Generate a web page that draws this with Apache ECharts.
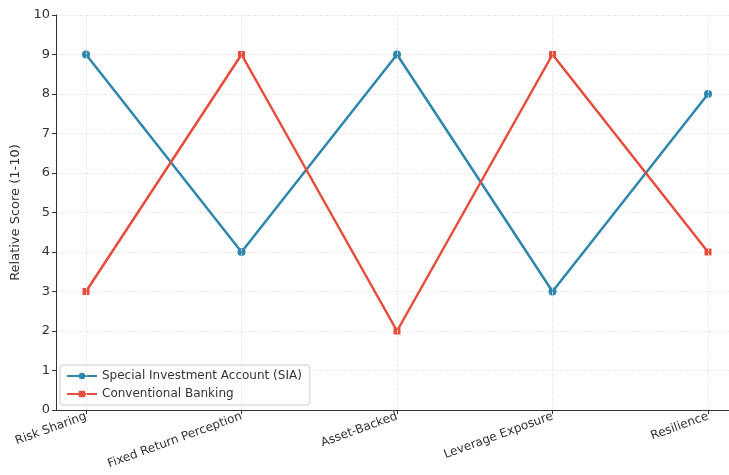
<!DOCTYPE html>
<html><head><meta charset="utf-8">
<script src="https://cdn.jsdelivr.net/npm/echarts@6/dist/echarts.min.js"></script>
<style>html,body{margin:0;padding:0;background:#fff}#c{width:729px;height:475px}</style>
</head><body><div id="c"></div>
<script>
const categories = ['Risk Sharing','Fixed Return Perception','Asset-Backed','Leverage Exposure','Resilience'];
const siaValues = [9,4,9,3,8];
const convValues = [3,9,2,9,4];
const yTicks = [0,1,2,3,4,5,6,7,8,9,10];
const seriesNames = ['Special Investment Account (SIA)','Conventional Banking'];

const chart = echarts.init(document.getElementById('c'), null, {renderer:'canvas'});
const idx = categories.map((_, i) => i);
const font = 'DejaVu Sans';
chart.setOption({
  animation:false,
  textStyle:{fontFamily:font},
  grid:{left:56, right:0, top:15, height:395, containLabel:false},
  xAxis:{
    type:'value', min:-0.193, max:4.135,
    axisLine:{show:true, onZero:false, lineStyle:{color:'#333', width:1}},
    axisTick:{show:true, customValues:idx, length:4, lineStyle:{color:'#333'}},
    axisLabel:{customValues:idx, rotate:20, color:'#333', fontSize:12, fontFamily:font, margin:6,
      formatter:v => categories[Math.round(v)] || ''},
    splitLine:{show:false}
  },
  yAxis:{
    type:'value', min:0, max:10, interval:1,
    name:'Relative Score (1-10)', nameLocation:'middle', nameGap:21,
    nameTextStyle:{color:'#333', fontSize:13, fontFamily:font},
    axisLine:{show:true, onZero:false, lineStyle:{color:'#333'}},
    axisTick:{show:true, length:4, lineStyle:{color:'#333'}},
    axisLabel:{color:'#333', fontSize:13, fontFamily:font, margin:6,
      formatter:v => yTicks.includes(v) ? String(v) : ''},
    splitLine:{show:true, lineStyle:{color:'#e6e6e6', type:'dashed', width:0.8}}
  },
  legend:{
    orient:'vertical', left:60, top:365,
    data:seriesNames,
    backgroundColor:'rgba(255,255,255,0.85)',
    borderColor:'#cccccc', borderWidth:1, borderRadius:3,
    padding:[5,8,5,6], itemGap:6, itemWidth:30, itemHeight:8,
    textStyle:{color:'#333', fontSize:12, fontFamily:font}
  },
  series:[
    {name:seriesNames[0], type:'line', data:siaValues.map((v,i)=>[i,v]),
     symbol:'circle', symbolSize:8, color:'#2E86AB', lineStyle:{width:2.5},
     markLine:{silent:true, symbol:'none', label:{show:false},
       lineStyle:{color:'#e6e6e6', type:'dashed', width:0.8},
       data:idx.map(i=>({xAxis:i}))}},
    {name:seriesNames[1], type:'line', data:convValues.map((v,i)=>[i,v]),
     symbol:'rect', symbolSize:7, color:'#E74C3C', lineStyle:{width:2.5}}
  ]
});
</script></body></html>
